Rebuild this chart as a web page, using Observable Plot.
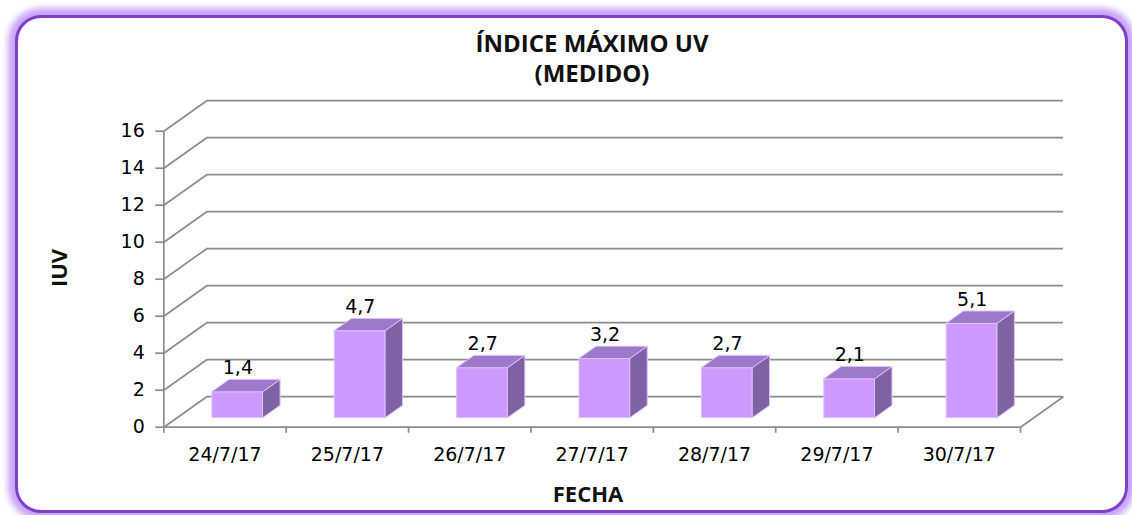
<!DOCTYPE html>
<html>
<head>
<meta charset="utf-8">
<script src="https://cdn.jsdelivr.net/npm/d3@7"></script>
<script src="https://cdn.jsdelivr.net/npm/@observablehq/plot@0.6"></script>
<style>
  html, body { margin: 0; padding: 0; background: #ffffff; }
  #wrap { position: relative; width: 1132px; height: 515px; overflow: hidden; background: #ffffff; }
  #frame { position: absolute; left: 15px; top: 15px; width: 1113px; height: 498px; box-sizing: border-box;
           border: 3px solid #7f3fc9; border-radius: 26px; box-shadow: 0 0 6px 7px #c9a3f7; background: #ffffff; }
  #chart { position: absolute; left: 0; top: 0; }
  .ttl { position: absolute; font-family: "Open Sans", sans-serif; font-weight: 700; font-size: 24px;
         line-height: 30px; color: #111; white-space: nowrap; text-align: center; }
  svg [aria-label="y-axis"] line, svg [aria-label="x-axis"] line,
  svg [aria-label="y-axis tick"] path, svg [aria-label="x-axis tick"] path { stroke: #8c8c8c; stroke-width: 1.7px; }
</style>
</head>
<body>
<div id="wrap">
  <div id="frame"></div>
  <div id="chart"></div>
  <div class="ttl" style="left:292px; top:27.5px; width:600px;">ÍNDICE MÁXIMO UV<br>(MEDIDO)</div>
  <div class="ttl" style="left:488px; top:478px; width:200px; font-size:22px;">FECHA</div>
  <div class="ttl" style="left:58px; top:268px; font-size:22px; transform: translate(-50%,-50%) rotate(-90deg);">IUV</div>
</div>
<script>
// ---- data ----
const dates = ["24/7/17", "25/7/17", "26/7/17", "27/7/17", "28/7/17", "29/7/17", "30/7/17"];
const uvMax = [1.4, 4.7, 2.7, 3.2, 2.7, 2.1, 5.1];
const yTicks = [0, 2, 4, 6, 8, 10, 12, 14, 16];

// ---- pseudo-3D geometry (in scale units) ----
const DX = 0.351, DY = 1.649;   // depth offset of the back wall
const D0 = 0.3, D1 = 0.7;       // bar depth span (fraction of the floor depth)
const BW = 0.417;               // bar width (fraction of a category)
const grid = "#8c8c8c";
const frontFill = "#cc99ff", topFill = "#9c7acb", sideFill = "#7e62a4", edge = "#dfc0ff";

const bars = dates.map((date, i) => ({date, i, v: uvMax[i]}));
const sideRows = bars.flatMap(b => [D0, D1].map(d => ({i: b.i, x: b.i + 0.5 + BW / 2 + d * DX, y1: d * DY, y2: b.v + d * DY})));
const topRows = bars.flatMap(b => [D0, D1].map(d => ({i: b.i, y: b.v + d * DY, x1: b.i + 0.5 - BW / 2 + d * DX, x2: b.i + 0.5 + BW / 2 + d * DX})));
const fmt = v => String(v).replace(".", ",");

const chart = Plot.plot({
  width: 1132,
  height: 515,
  marginLeft: 163.3,
  marginRight: 112,
  marginTop: 130.7,
  marginBottom: 88.3,
  style: {fontFamily: "DejaVu Sans, sans-serif", fontSize: "19px", color: "#000", background: "transparent", overflow: "visible"},
  x: {type: "linear", domain: [0, dates.length], ticks: dates.map((d, i) => i + 0.5), tickFormat: t => dates[Math.floor(t)], tickSize: 0, tickPadding: 20, label: null},
  y: {type: "linear", domain: [0, 16], ticks: yTicks, tickSize: 8, tickPadding: 11, label: null},
  marks: [
    Plot.ruleY(yTicks, {y: t => t + DY, x1: DX, x2: dates.length + DX, stroke: grid, strokeWidth: 1.7}),
    Plot.link(yTicks, {x1: 0, y1: t => t, x2: DX, y2: t => t + DY, stroke: grid, strokeWidth: 1.7}),
    Plot.link([dates.length], {x1: d => d, y1: 0, x2: d => d + DX, y2: DY, stroke: grid, strokeWidth: 1.7}),
    Plot.ruleY([0], {x1: 0, x2: dates.length, stroke: grid, strokeWidth: 1.7}),
    Plot.ruleX([0], {y1: 0, y2: 16, stroke: grid, strokeWidth: 1.7}),
    Plot.ruleX(d3.range(dates.length + 1), {y1: 0, y2: -0.33, stroke: grid, strokeWidth: 1.7}),
    Plot.rect(bars, {x1: b => b.i + 0.5 - BW / 2 + D0 * DX, x2: b => b.i + 0.5 + BW / 2 + D0 * DX, y1: D0 * DY, y2: b => b.v + D0 * DY, fill: frontFill, stroke: edge, strokeWidth: 1}),
    Plot.areaY(sideRows, {x: "x", y1: "y1", y2: "y2", z: "i", fill: sideFill, stroke: edge, strokeWidth: 1}),
    Plot.areaX(topRows, {y: "y", x1: "x1", x2: "x2", z: "i", fill: topFill, stroke: edge, strokeWidth: 1}),
    Plot.text(bars, {x: b => b.i + 0.5 + D0 * DX, y: b => b.v + D1 * DY, text: b => fmt(b.v), dy: -12, fill: "#000"})
  ]
});
document.getElementById("chart").appendChild(chart);
</script>
</body>
</html>
